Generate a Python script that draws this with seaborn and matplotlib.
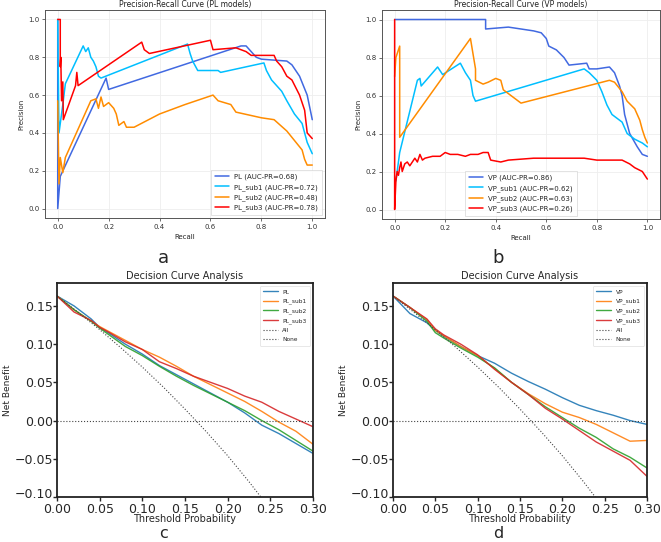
import matplotlib
matplotlib.use("Agg")
import matplotlib.pyplot as plt
import matplotlib.transforms as mtransforms
import seaborn as sns
import pandas as pd

sns.set_style("white")
plt.rcParams['font.family'] = ['DejaVu Sans']

# ---------------- Panel a: PR curves (PL models) ----------------
pl_names = ["PL (AUC-PR=0.68)", "PL_sub1 (AUC-PR=0.72)", "PL_sub2 (AUC-PR=0.48)", "PL_sub3 (AUC-PR=0.78)"]
pl_rec = [0.0, 0.0, 0.01, 0.19, 0.2, 0.72, 0.74, 0.76, 0.78, 0.8, 0.9, 0.92, 0.95, 0.98, 1.0]
pl_prec = [1.0, 0.0, 0.17, 0.69, 0.63, 0.86, 0.86, 0.83, 0.80, 0.79, 0.78, 0.76, 0.70, 0.60, 0.47]
pl1_rec = [0.0, 0.005, 0.02, 0.03, 0.1, 0.11, 0.12, 0.13, 0.14, 0.15, 0.16, 0.17, 0.51, 0.52, 0.53, 0.55,
           0.63, 0.64, 0.81, 0.82, 0.84, 0.88, 0.9, 0.93, 0.96, 0.98, 1.0]
pl1_prec = [1.0, 0.40, 0.55, 0.66, 0.86, 0.83, 0.85, 0.80, 0.78, 0.75, 0.70, 0.69, 0.87, 0.82, 0.78, 0.73,
            0.73, 0.72, 0.77, 0.73, 0.68, 0.62, 0.57, 0.50, 0.45, 0.35, 0.29]
pl2_rec = [0.0, 0.005, 0.01, 0.02, 0.03, 0.13, 0.15, 0.16, 0.17, 0.18, 0.2, 0.22, 0.23, 0.24, 0.26, 0.27,
           0.3, 0.4, 0.5, 0.61, 0.63, 0.68, 0.7, 0.8, 0.85, 0.9, 0.93, 0.96, 0.97, 0.98, 1.0]
pl2_prec = [0.57, 0.13, 0.27, 0.19, 0.27, 0.57, 0.58, 0.53, 0.59, 0.54, 0.56, 0.53, 0.50, 0.44, 0.46, 0.43,
            0.43, 0.50, 0.55, 0.60, 0.57, 0.55, 0.51, 0.48, 0.47, 0.41, 0.36, 0.31, 0.26, 0.23, 0.23]
pl3_rec = [0.0, 0.01, 0.01, 0.012, 0.015, 0.02, 0.022, 0.03, 0.07, 0.075, 0.08, 0.33, 0.34, 0.36, 0.6, 0.61,
           0.7, 0.74, 0.76, 0.85, 0.86, 0.88, 0.9, 0.92, 0.95, 0.97, 0.98, 1.0]
pl3_prec = [1.0, 1.0, 0.75, 0.80, 0.57, 0.67, 0.47, 0.50, 0.65, 0.72, 0.65, 0.88, 0.84, 0.82, 0.89, 0.84,
            0.85, 0.83, 0.81, 0.81, 0.78, 0.75, 0.70, 0.68, 0.60, 0.52, 0.40, 0.37]

# ---------------- Panel b: PR curves (VP models) ----------------
vp_names = ["VP (AUC-PR=0.86)", "VP_sub1 (AUC-PR=0.62)", "VP_sub2 (AUC-PR=0.63)", "VP_sub3 (AUC-PR=0.26)"]
vp_rec = [0.0, 0.36, 0.36, 0.45, 0.5, 0.55, 0.58, 0.6, 0.61, 0.64, 0.67, 0.69, 0.76, 0.77, 0.8, 0.85, 0.87,
          0.89, 0.9, 0.91, 0.93, 0.96, 0.98, 1.0]
vp_prec = [1.0, 1.0, 0.95, 0.96, 0.95, 0.94, 0.93, 0.90, 0.86, 0.84, 0.80, 0.76, 0.77, 0.74, 0.74, 0.75, 0.72,
           0.65, 0.60, 0.50, 0.40, 0.33, 0.29, 0.28]
vp1_rec = [0.005, 0.02, 0.09, 0.1, 0.105, 0.17, 0.19, 0.26, 0.28, 0.3, 0.31, 0.32, 0.75, 0.77, 0.8, 0.82,
           0.84, 0.86, 0.9, 0.92, 0.95, 0.98, 1.0]
vp1_prec = [0.15, 0.30, 0.68, 0.69, 0.65, 0.75, 0.71, 0.77, 0.72, 0.68, 0.60, 0.57, 0.74, 0.72, 0.68, 0.62,
            0.55, 0.50, 0.46, 0.40, 0.37, 0.35, 0.33]
vp2_rec = [0.0, 0.005, 0.02, 0.02, 0.3, 0.31, 0.32, 0.32, 0.35, 0.37, 0.4, 0.42, 0.43, 0.46, 0.5, 0.85,
           0.87, 0.9, 0.92, 0.95, 0.97, 0.98, 0.99, 1.0]
vp2_prec = [0.70, 0.80, 0.86, 0.38, 0.90, 0.82, 0.74, 0.68, 0.66, 0.67, 0.69, 0.68, 0.63, 0.60, 0.56, 0.68,
            0.67, 0.62, 0.57, 0.53, 0.47, 0.42, 0.38, 0.35]
vp3_rec = [0.0, 0.0, 0.005, 0.01, 0.015, 0.02, 0.025, 0.03, 0.04, 0.05, 0.06, 0.08, 0.09, 0.1, 0.11, 0.12,
           0.15, 0.18, 0.2, 0.22, 0.25, 0.28, 0.3, 0.33, 0.35, 0.37, 0.38, 0.42, 0.45, 0.55, 0.65, 0.75,
           0.8, 0.85, 0.9, 0.93, 0.95, 0.98, 1.0]
vp3_prec = [1.0, 0.0, 0.15, 0.20, 0.18, 0.22, 0.25, 0.20, 0.24, 0.25, 0.23, 0.27, 0.25, 0.29, 0.26, 0.27,
            0.28, 0.28, 0.30, 0.29, 0.29, 0.28, 0.29, 0.29, 0.30, 0.30, 0.26, 0.25, 0.26, 0.27, 0.27, 0.27,
            0.26, 0.26, 0.26, 0.24, 0.22, 0.20, 0.16]

# ---------------- Panels c/d: decision curves ----------------
thr = [0.0, 0.02, 0.04, 0.05, 0.06, 0.08, 0.10, 0.12, 0.14, 0.16, 0.18, 0.20, 0.22, 0.24, 0.26, 0.28, 0.30]
c_names = ["PL", "PL_sub1", "PL_sub2", "PL_sub3"]
c_pl = [0.163, 0.150, 0.133, 0.122, 0.115, 0.100, 0.087, 0.072, 0.060, 0.048, 0.036, 0.024, 0.010, -0.006, -0.017, -0.030, -0.043]
c_pl1 = [0.163, 0.145, 0.130, 0.123, 0.117, 0.105, 0.093, 0.083, 0.071, 0.058, 0.047, 0.036, 0.025, 0.012, -0.002, -0.014, -0.031]
c_pl2 = [0.163, 0.145, 0.130, 0.121, 0.113, 0.097, 0.085, 0.071, 0.058, 0.046, 0.035, 0.024, 0.013, 0.000, -0.012, -0.026, -0.040]
c_pl3 = [0.163, 0.142, 0.131, 0.122, 0.116, 0.103, 0.093, 0.077, 0.068, 0.058, 0.050, 0.042, 0.032, 0.024, 0.012, 0.002, -0.008]
d_names = ["VP", "VP_sub1", "VP_sub2", "VP_sub3"]
d_vp = [0.163, 0.140, 0.128, 0.118, 0.110, 0.097, 0.085, 0.075, 0.062, 0.051, 0.041, 0.030, 0.020, 0.013, 0.007, 0.000, -0.005]
d_vp1 = [0.163, 0.148, 0.132, 0.118, 0.111, 0.097, 0.085, 0.068, 0.050, 0.035, 0.022, 0.011, 0.004, -0.005, -0.016, -0.027, -0.026]
d_vp2 = [0.163, 0.148, 0.130, 0.115, 0.108, 0.095, 0.083, 0.069, 0.050, 0.034, 0.018, 0.004, -0.010, -0.022, -0.037, -0.048, -0.062]
d_vp3 = [0.163, 0.148, 0.133, 0.120, 0.112, 0.100, 0.086, 0.067, 0.050, 0.034, 0.016, 0.002, -0.013, -0.028, -0.040, -0.052, -0.073]
all_thr = [0.0, 0.025, 0.05, 0.075, 0.10, 0.125, 0.15, 0.175, 0.20, 0.225, 0.25]
all_nb = [0.163, 0.1415, 0.119, 0.0951, 0.070, 0.0434, 0.015, -0.0146, -0.046, -0.080, -0.116]
none_thr = [0.0, 0.30]
none_nb = [0.0, 0.0]

pr_colors = ["royalblue", "deepskyblue", "darkorange", "red"]
dca_colors = ["tab:blue", "tab:orange", "tab:green", "tab:red"]

W, H = 661, 542
fig = plt.figure(figsize=(W / 100, H / 100), dpi=100)


def box(l, t, r, b):
    return [l / W, 1 - b / H, (r - l) / W, (b - t) / H]


def pr_panel(rect, title, names, recs, precs, legloc):
    ax = fig.add_axes(rect)
    for name, r, p, col in zip(names, recs, precs, pr_colors):
        df = pd.DataFrame({"Recall": r, "Precision": p})
        sns.lineplot(data=df, x="Recall", y="Precision", sort=False, estimator=None,
                     color=col, lw=1.1, label=name, ax=ax)
    ax.set_xlim(-0.05, 1.05)
    ax.set_ylim(-0.05, 1.05)
    ax.set_xticks([0, 0.2, 0.4, 0.6, 0.8, 1.0])
    ax.set_yticks([0, 0.2, 0.4, 0.6, 0.8, 1.0])
    ax.grid(True, color="#eeeeee", lw=0.6)
    ax.tick_params(labelsize=5, length=2, width=0.5, pad=2, colors="#333333")
    ax.tick_params(left=True, bottom=True)
    ax.set_title(title, fontsize=5.5, pad=2.5, color="#222222")
    ax.set_xlabel("Recall", fontsize=5, labelpad=3)
    ax.set_ylabel("Precision", fontsize=5, labelpad=3)
    for s in ax.spines.values():
        s.set_color("#555555")
        s.set_linewidth(0.7)
    leg = ax.legend(loc=legloc, fontsize=5, frameon=True, borderpad=0.5,
                    handlelength=2.0, labelspacing=0.5, fancybox=False)
    leg.get_frame().set_linewidth(0.5)
    leg.get_frame().set_edgecolor("#cccccc")
    return ax


def dca_panel(rect, names, series):
    ax = fig.add_axes(rect)
    for name, y, col in zip(names, series, dca_colors):
        df = pd.DataFrame({"t": thr, "nb": y})
        sns.lineplot(data=df, x="t", y="nb", sort=False, estimator=None, color=col,
                     lw=1.0, label=name, ax=ax, alpha=0.9)
    sns.lineplot(x=all_thr, y=all_nb, sort=False, estimator=None, color="#444444", ls=":",
                 lw=0.8, label="All", ax=ax)
    sns.lineplot(x=none_thr, y=none_nb, sort=False, estimator=None, color="#444444", ls=":",
                 lw=0.8, label="None", ax=ax)
    ax.set_xlim(0, 0.30)
    ax.set_ylim(-0.10, 0.18)
    ax.set_xticks([0.0, 0.05, 0.10, 0.15, 0.20, 0.25, 0.30])
    ax.set_xticklabels(["0.00", "0.05", "0.10", "0.15", "0.20", "0.25", "0.30"])
    ax.set_yticks([-0.10, -0.05, 0.0, 0.05, 0.10, 0.15])
    ax.set_yticklabels(["\u22120.10", "\u22120.05", "0.00", "0.05", "0.10", "0.15"])
    ax.tick_params(labelsize=9, length=3, width=1, pad=0, left=True, bottom=True)
    ax.tick_params(axis="x", pad=1)
    # nudge the lowest y tick label up a little so it does not collide with "0.00"
    lab = ax.get_yticklabels()[0]
    lab.set_transform(lab.get_transform() + mtransforms.ScaledTranslation(0, 4 / 100, fig.dpi_scale_trans))
    ax.set_title("Decision Curve Analysis", fontsize=7, pad=3)
    ax.set_xlabel("Threshold Probability", fontsize=7, labelpad=-1)
    ax.set_ylabel("Net Benefit", fontsize=6.5, labelpad=2)
    for s in ax.spines.values():
        s.set_color("#222222")
        s.set_linewidth(1.3)
    leg = ax.legend(loc="upper right", fontsize=4.2, frameon=True, borderpad=0.6,
                    handlelength=2.5, labelspacing=0.7, fancybox=True)
    leg.get_frame().set_linewidth(0.4)
    return ax


pr_panel(box(45, 10, 325, 218), "Precision-Recall Curve (PL models)", pl_names,
         [pl_rec, pl1_rec, pl2_rec, pl3_rec], [pl_prec, pl1_prec, pl2_prec, pl3_prec], "lower right")
pr_panel(box(382, 10, 660, 219), "Precision-Recall Curve (VP models)", vp_names,
         [vp_rec, vp1_rec, vp2_rec, vp3_rec], [vp_prec, vp1_prec, vp2_prec, vp3_prec], "lower center")
dca_panel(box(57, 283, 313, 497), c_names, [c_pl, c_pl1, c_pl2, c_pl3])
dca_panel(box(393, 283, 647, 497), d_names, [d_vp, d_vp1, d_vp2, d_vp3])

for lbl, x, y in [("a", 163, 258), ("b", 498, 258)]:
    fig.text(x / W, 1 - y / H, lbl, fontsize=13, ha="center", va="center")
for lbl, x in [("c", 163), ("d", 498)]:
    fig.text(x / W, 1 / H, lbl, fontsize=11.5, ha="center", va="bottom")

fig.savefig("out.png", dpi=100)
